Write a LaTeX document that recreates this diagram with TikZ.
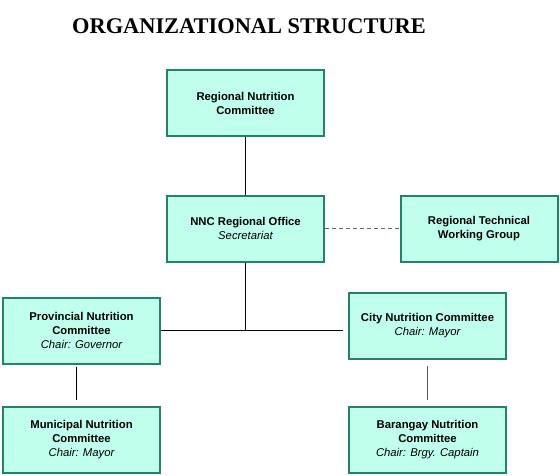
\documentclass[tikz,border=0pt]{standalone}
\usepackage{fontspec}
\setmainfont{Liberation Sans}
\newfontfamily\titlefont{Liberation Serif}
\usetikzlibrary{calc}
\definecolor{boxfill}{RGB}{192,255,236}
\definecolor{boxline}{RGB}{34,130,106}

\begin{document}
\begin{tikzpicture}[x=1pt,y=-1pt,
        unit/.style={draw=boxline,line width=2pt,fill=boxfill,minimum width=157pt,minimum height=66pt,align=center,font=\fontsize{11.3}{14}\selectfont\bfseries,inner sep=2pt},
        link/.style={line width=0.8pt},
        staff/.style={line width=0.8pt,gray!80!black,dash pattern=on 4pt off 3pt}]
        \useasboundingbox (0,0) rectangle (560,475);
		\node[anchor=base,font=\titlefont\fontsize{22.4}{24}\selectfont\bfseries] (title) at (249,33) {ORGANIZATIONAL STRUCTURE};
		\node[unit] (RNC) at (245.5,103) {Regional Nutrition\\Committee};
		\node[unit] (NNC) at (245.5,228.5) {NNC Regional Office\\\mdseries\itshape Secretariat};
		\node[unit] (RTWG) at (479,228.5) {Regional Technical\\Working Group};
		\node[unit] (PNC) at (81.5,330.5) {Provincial Nutrition\\Committee\\\mdseries\itshape Chair: Governor};
		\node[unit] (CNC) at (427.5,326) {City Nutrition Committee\\\mdseries\itshape Chair: Mayor};
		\node[unit] (MNC) at (81.5,440) {Municipal Nutrition\\Committee\\\mdseries\itshape Chair: Mayor};
		\node[unit] (BNC) at (427.5,440) {Barangay Nutrition\\Committee\\\mdseries\itshape Chair: Brgy. Captain};
		\draw[link] (RNC)--(NNC);
		\draw[staff] (NNC)--(RTWG);
		\draw[link] (NNC.south)--(NNC.south |- PNC.east);
		\draw[link,shorten >=5pt] (PNC.east)--(PNC.east -| CNC.west);
		\draw[link,shorten <=2pt,shorten >=6pt] ([xshift=-5.5pt]PNC.south)--([xshift=-5.5pt]MNC.north);
		\draw[link,gray!70!black,shorten <=6pt,shorten >=6pt] (CNC.south)--(BNC.north);
		\end{tikzpicture}
\end{document}
